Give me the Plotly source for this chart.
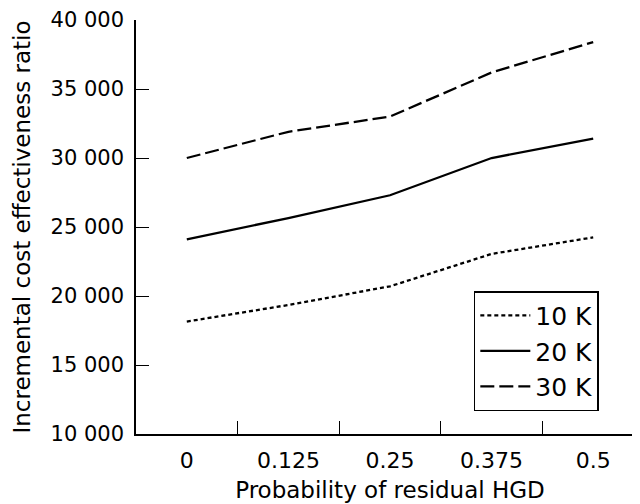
import plotly.graph_objects as go

categories = ["0", "0.125", "0.25", "0.375", "0.5"]
series_names = ["10 K", "20 K", "30 K"]
values_10k = [18150, 19350, 20700, 23050, 24250]
values_20k = [24100, 25650, 27300, 30000, 31400]
values_30k = [30000, 31900, 33000, 36200, 38400]
y_ticks = [10000, 15000, 20000, 25000, 30000, 35000, 40000]
y_tick_labels = ["10 000", "15 000", "20 000", "25 000", "30 000", "35 000", "40 000"]

FONT = "'DejaVu Sans', sans-serif"

fig = go.Figure()
styles = [("4px,3px", values_10k), ("solid", values_20k), ("14px,5px", values_30k)]
for name, (dash, vals) in zip(series_names, styles):
    fig.add_trace(go.Scatter(
        x=categories, y=vals, mode="lines", name=name,
        line=dict(color="black", width=2.3, dash=dash),
    ))

fig.update_layout(
    template="none",
    width=640, height=504,
    margin=dict(l=128, r=4, t=12, b=78),
    paper_bgcolor="white", plot_bgcolor="white",
    font=dict(family=FONT, size=22, color="black"),
    showlegend=True,
    legend=dict(
        x=0.665, y=0.345, xanchor="left", yanchor="top",
        bordercolor="black", borderwidth=1.5, bgcolor="white",
        font=dict(size=25), itemwidth=50, tracegroupgap=0,
    ),
)
fig.update_xaxes(
    type="category", range=[-0.5, 4.5], tickson="boundaries",
    ticks="inside", ticklen=13, tickwidth=1.3, tickcolor="black",
    showline=True, linecolor="black", linewidth=1.5,
    showgrid=False, zeroline=False, automargin=False,
    tickfont=dict(size=22), ticklabelstandoff=6, ticklabeloverflow="allow",
    title=dict(text="Probability of residual HGD", font=dict(size=23), standoff=10),
)
fig.update_yaxes(
    range=[10000, 40000], tickvals=y_ticks, ticktext=y_tick_labels,
    ticks="inside", ticklen=13, tickwidth=1.3, tickcolor="black",
    showline=True, linecolor="black", linewidth=1.5,
    showgrid=False, zeroline=False, automargin=False,
    tickfont=dict(size=21), ticklabelstandoff=6, ticklabeloverflow="allow",
    title=dict(text="Incremental cost effectiveness ratio", font=dict(size=23), standoff=14),
)

fig.write_html("out.html")
